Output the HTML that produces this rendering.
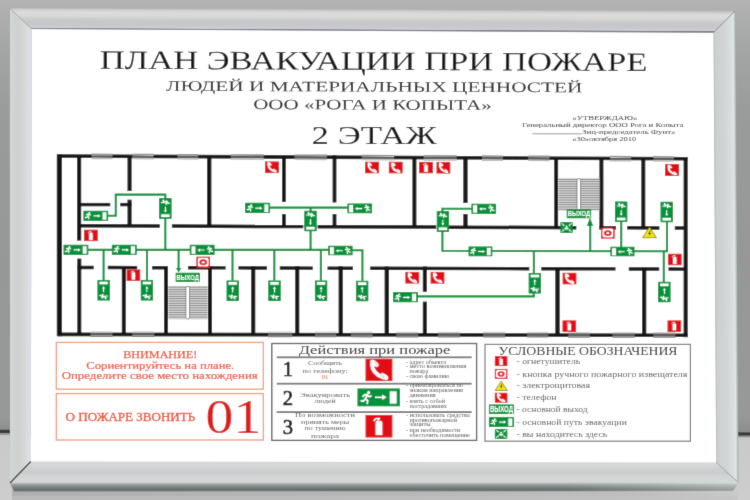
<!DOCTYPE html>
<html><head><meta charset="utf-8"><style>
html,body{margin:0;padding:0;width:750px;height:500px;overflow:hidden;background:#aaa;}
body>svg{display:block;will-change:transform;}
</style></head><body>
<svg width="750" height="500" viewBox="0 0 750 500">
<defs><filter id="soft" x="0" y="0" width="750" height="500" filterUnits="userSpaceOnUse"><feConvolveMatrix order="3" kernelMatrix="0.0113 0.0838 0.0113 0.0838 0.6193 0.0838 0.0113 0.0838 0.0113" edgeMode="duplicate" preserveAlpha="true"/></filter></defs>
<g filter="url(#soft)">
<defs>
<linearGradient id="bgTop" x1="0" y1="0" x2="0" y2="434" gradientUnits="userSpaceOnUse">
 <stop offset="0" stop-color="#b3b3b3"/><stop offset="0.1" stop-color="#a5a6a6"/><stop offset="0.25" stop-color="#9a9b9b"/>
 <stop offset="0.6" stop-color="#969797"/><stop offset="0.96" stop-color="#979898"/><stop offset="1" stop-color="#8a8b8b"/>
</linearGradient>
<linearGradient id="bgBot" x1="0" y1="431" x2="0" y2="500" gradientUnits="userSpaceOnUse">
 <stop offset="0" stop-color="#c0c0c0"/><stop offset="0.15" stop-color="#cacaca"/><stop offset="1" stop-color="#cdcdcd"/>
</linearGradient>
<linearGradient id="bgShadow" x1="12" y1="0" x2="736" y2="0" gradientUnits="userSpaceOnUse">
 <stop offset="0" stop-color="#b0b0b0"/><stop offset="0.5" stop-color="#b6b6b6"/><stop offset="0.85" stop-color="#bebebe"/><stop offset="1" stop-color="#c8c8c8"/>
</linearGradient>
<linearGradient id="frTop" x1="0" y1="8" x2="0" y2="29" gradientUnits="userSpaceOnUse" gradientTransform="matrix(1 0.0045 0 1 0 -0.143)">
 <stop offset="0" stop-color="#b8b8b8"/><stop offset="0.08" stop-color="#d0d0d0"/>
 <stop offset="0.2" stop-color="#dbdbdb"/><stop offset="0.38" stop-color="#d8d8d8"/>
 <stop offset="0.5" stop-color="#cdcdcd"/><stop offset="0.62" stop-color="#c5c7c9"/><stop offset="0.85" stop-color="#c7c9cb"/>
 <stop offset="0.9" stop-color="#d0d0da"/><stop offset="0.94" stop-color="#c8c8d4"/>
 <stop offset="0.97" stop-color="#80808e"/><stop offset="1" stop-color="#80808e"/>
</linearGradient>
<linearGradient id="frLeft" x1="9.6" y1="0" x2="31" y2="0" gradientUnits="userSpaceOnUse">
 <stop offset="0" stop-color="#a8b0b0"/><stop offset="0.05" stop-color="#d4dada"/><stop offset="0.15" stop-color="#d2d4d4"/>
 <stop offset="0.4" stop-color="#cfd0d0"/><stop offset="0.6" stop-color="#d3d4d4"/><stop offset="0.8" stop-color="#dadcdc"/>
 <stop offset="0.95" stop-color="#e0dee6"/><stop offset="1" stop-color="#d8d8e0"/>
</linearGradient>
<linearGradient id="frRight" x1="713.5" y1="0" x2="736" y2="0" gradientUnits="userSpaceOnUse" gradientTransform="matrix(1 0 0.0063 1 -0.205 0)">
 <stop offset="0" stop-color="#b8b8b8"/><stop offset="0.08" stop-color="#cdd0d0"/>
 <stop offset="0.45" stop-color="#d1d4d4"/><stop offset="0.75" stop-color="#d9dddd"/><stop offset="0.88" stop-color="#e1e5e5"/>
 <stop offset="0.95" stop-color="#b4bebe"/><stop offset="1" stop-color="#9aa4a4"/>
</linearGradient>
<linearGradient id="frBot" x1="0" y1="462" x2="0" y2="491" gradientUnits="userSpaceOnUse">
 <stop offset="0" stop-color="#d6d6d6"/><stop offset="0.1" stop-color="#d6d8d8"/>
 <stop offset="0.35" stop-color="#c9cccd"/><stop offset="0.58" stop-color="#d4d8d8"/><stop offset="0.7" stop-color="#d2d6d6"/>
 <stop offset="0.76" stop-color="#9ea6a6"/><stop offset="0.87" stop-color="#7a8282"/><stop offset="0.95" stop-color="#666e6e"/><stop offset="1" stop-color="#6e7676"/>
</linearGradient>
<linearGradient id="rimFade" x1="560" y1="0" x2="738" y2="0" gradientUnits="userSpaceOnUse">
 <stop offset="0" stop-color="#ffffff" stop-opacity="0"/><stop offset="1" stop-color="#ffffff" stop-opacity="0.35"/>
</linearGradient>
</defs>
<rect x="0" y="0" width="750" height="434" fill="url(#bgTop)"/>
<rect x="0" y="432" width="750" height="68" fill="url(#bgBot)"/>
<polygon points="0,429.8 750,432.2 750,435.8 0,433.2" fill="#363838"/>
<polygon points="0,433.2 750,435.8 750,437.2 0,434.8" fill="#8c8e8e"/>
<rect x="12" y="490" width="726" height="10" fill="url(#bgShadow)"/>
<rect x="12" y="496" width="726" height="4" fill="#c4c4c4" opacity="0.5"/>
<polygon points="9.6,8 735.5,10.5 713.5,32.6 31.7,28.8" fill="url(#frTop)"/>
<polygon points="9.6,8 31.7,28.8 30.8,461.5 10,483" fill="url(#frLeft)"/>
<polygon points="735.5,10.5 738.5,482.5 716.2,462.4 713.5,32.6" fill="url(#frRight)"/>
<polygon points="30.8,461.5 716.2,462.4 738.5,482.5 733,491 14,491.5 10,483" fill="url(#frBot)"/>
<polygon points="560,483 738.5,482.5 733,491 560,491.3" fill="url(#rimFade)"/>
<g stroke="#6a6e6e" stroke-width="1" fill="none">
<line x1="10" y1="8.5" x2="31.5" y2="28.8" stroke="#a8a8a8"/>
<line x1="735" y1="11" x2="713.5" y2="32.6" stroke="#8a9090"/>
<line x1="30.8" y1="461.5" x2="10" y2="483" stroke="#3c4040" stroke-width="1.3"/>
<line x1="716.2" y1="462.4" x2="738.3" y2="482.5" stroke="#a0a4a4"/>
</g>
<polygon points="31.7,28.8 713.5,32.6 716.2,462.4 30.8,461.5" fill="#ffffff"/>
<line x1="31.7" y1="28.6" x2="713.5" y2="32.4" stroke="#7a7a88" stroke-width="0.8"/>
<polygon points="57.5,154.2 687.5,157.0022239872915 687.5,160.6022239872915 57.5,157.79999999999998" fill="#141414"/>
<polygon points="57.5,332.6 688,333.40127084988086 688,337.0012708498809 57.5,336.20000000000005" fill="#141414"/>
<rect x="56.8" y="154.2" width="5.2" height="182.0" fill="#141414"/>
<rect x="683.6" y="157.0" width="4.1" height="180.2" fill="#141414"/>
<polygon points="91.6,153.55 112.5,153.64 112.5,154.84 91.6,154.75" fill="#909090"/>
<polygon points="91.6,154.75 112.5,154.84 112.5,155.74 91.6,155.65" fill="#cacaca"/>
<polygon points="91.6,155.65 112.5,155.74 112.5,157.44 91.6,157.35" fill="#5a5a5a"/>
<polygon points="91.6,157.35 112.5,157.44 112.5,159.24 91.6,159.15" fill="#bcbcbc"/>
<polygon points="132.3,153.73 153.6,153.83 153.6,155.03 132.3,154.93" fill="#909090"/>
<polygon points="132.3,154.93 153.6,155.03 153.6,155.93 132.3,155.83" fill="#cacaca"/>
<polygon points="132.3,155.83 153.6,155.93 153.6,157.63 132.3,157.53" fill="#5a5a5a"/>
<polygon points="132.3,157.53 153.6,157.63 153.6,159.43 132.3,159.33" fill="#bcbcbc"/>
<polygon points="177.4,153.93 198.3,154.03 198.3,155.23 177.4,155.13" fill="#909090"/>
<polygon points="177.4,155.13 198.3,155.23 198.3,156.13 177.4,156.03" fill="#cacaca"/>
<polygon points="177.4,156.03 198.3,156.13 198.3,157.83 177.4,157.73" fill="#5a5a5a"/>
<polygon points="177.4,157.73 198.3,157.83 198.3,159.63 177.4,159.53" fill="#bcbcbc"/>
<polygon points="230.7,154.17 263.7,154.32 263.7,155.52 230.7,155.37" fill="#909090"/>
<polygon points="230.7,155.37 263.7,155.52 263.7,156.42 230.7,156.27" fill="#cacaca"/>
<polygon points="230.7,156.27 263.7,156.42 263.7,158.12 230.7,157.97" fill="#5a5a5a"/>
<polygon points="230.7,157.97 263.7,158.12 263.7,159.92 230.7,159.77" fill="#bcbcbc"/>
<polygon points="294.5,154.45 326.8,154.60 326.8,155.80 294.5,155.65" fill="#909090"/>
<polygon points="294.5,155.65 326.8,155.80 326.8,156.70 294.5,156.55" fill="#cacaca"/>
<polygon points="294.5,156.55 326.8,156.70 326.8,158.40 294.5,158.25" fill="#5a5a5a"/>
<polygon points="294.5,158.25 326.8,158.40 326.8,160.20 294.5,160.05" fill="#bcbcbc"/>
<polygon points="361.6,154.75 394,154.90 394,156.10 361.6,155.95" fill="#909090"/>
<polygon points="361.6,155.95 394,156.10 394,157.00 361.6,156.85" fill="#cacaca"/>
<polygon points="361.6,156.85 394,157.00 394,158.70 361.6,158.55" fill="#5a5a5a"/>
<polygon points="361.6,158.55 394,158.70 394,160.50 361.6,160.35" fill="#bcbcbc"/>
<polygon points="423.7,155.03 456.7,155.18 456.7,156.38 423.7,156.23" fill="#909090"/>
<polygon points="423.7,156.23 456.7,156.38 456.7,157.28 423.7,157.13" fill="#cacaca"/>
<polygon points="423.7,157.13 456.7,157.28 456.7,158.98 423.7,158.83" fill="#5a5a5a"/>
<polygon points="423.7,158.83 456.7,158.98 456.7,160.78 423.7,160.63" fill="#bcbcbc"/>
<polygon points="482,155.29 502.9,155.38 502.9,156.58 482,156.49" fill="#909090"/>
<polygon points="482,156.49 502.9,156.58 502.9,157.48 482,157.39" fill="#cacaca"/>
<polygon points="482,157.39 502.9,157.48 502.9,159.18 482,159.09" fill="#5a5a5a"/>
<polygon points="482,159.09 502.9,159.18 502.9,160.98 482,160.89" fill="#bcbcbc"/>
<polygon points="528.2,155.49 549.5,155.59 549.5,156.79 528.2,156.69" fill="#909090"/>
<polygon points="528.2,156.69 549.5,156.79 549.5,157.69 528.2,157.59" fill="#cacaca"/>
<polygon points="528.2,157.59 549.5,157.69 549.5,159.39 528.2,159.29" fill="#5a5a5a"/>
<polygon points="528.2,159.29 549.5,159.39 549.5,161.19 528.2,161.09" fill="#bcbcbc"/>
<polygon points="610.2,155.86 631.2,155.95 631.2,157.15 610.2,157.06" fill="#909090"/>
<polygon points="610.2,157.06 631.2,157.15 631.2,158.05 610.2,157.96" fill="#cacaca"/>
<polygon points="610.2,157.96 631.2,158.05 631.2,159.75 610.2,159.66" fill="#5a5a5a"/>
<polygon points="610.2,159.66 631.2,159.75 631.2,161.55 610.2,161.46" fill="#bcbcbc"/>
<polygon points="653.3,156.05 673.9,156.14 673.9,157.34 653.3,157.25" fill="#909090"/>
<polygon points="653.3,157.25 673.9,157.34 673.9,158.24 653.3,158.15" fill="#cacaca"/>
<polygon points="653.3,158.15 673.9,158.24 673.9,159.94 653.3,159.85" fill="#5a5a5a"/>
<polygon points="653.3,159.85 673.9,159.94 673.9,161.74 653.3,161.65" fill="#bcbcbc"/>
<polygon points="90.5,331.24 112.5,331.27 112.5,332.67 90.5,332.64" fill="#d2d2d2"/>
<polygon points="90.5,332.64 112.5,332.67 112.5,333.27 90.5,333.24" fill="#959595"/>
<polygon points="90.5,333.24 112.5,333.27 112.5,335.27 90.5,335.24" fill="#5c5c5c"/>
<polygon points="90.5,335.24 112.5,335.27 112.5,336.07 90.5,336.04" fill="#bcbcbc"/>
<polygon points="90.5,336.04 112.5,336.07 112.5,337.07 90.5,337.04" fill="#7c7c7c"/>
<polygon points="132.3,331.30 154.3,331.32 154.3,332.72 132.3,332.70" fill="#d2d2d2"/>
<polygon points="132.3,332.70 154.3,332.72 154.3,333.32 132.3,333.30" fill="#959595"/>
<polygon points="132.3,333.30 154.3,333.32 154.3,335.32 132.3,335.30" fill="#5c5c5c"/>
<polygon points="132.3,335.30 154.3,335.32 154.3,336.12 132.3,336.10" fill="#bcbcbc"/>
<polygon points="132.3,336.10 154.3,336.12 154.3,337.12 132.3,337.10" fill="#7c7c7c"/>
<polygon points="268.1,331.47 292.3,331.50 292.3,332.90 268.1,332.87" fill="#d2d2d2"/>
<polygon points="268.1,332.87 292.3,332.90 292.3,333.50 268.1,333.47" fill="#959595"/>
<polygon points="268.1,333.47 292.3,333.50 292.3,335.50 268.1,335.47" fill="#5c5c5c"/>
<polygon points="268.1,335.47 292.3,335.50 292.3,336.30 268.1,336.27" fill="#bcbcbc"/>
<polygon points="268.1,336.27 292.3,336.30 292.3,337.30 268.1,337.27" fill="#7c7c7c"/>
<polygon points="315,331.53 336.3,331.55 336.3,332.95 315,332.93" fill="#d2d2d2"/>
<polygon points="315,332.93 336.3,332.95 336.3,333.55 315,333.53" fill="#959595"/>
<polygon points="315,333.53 336.3,333.55 336.3,335.55 315,335.53" fill="#5c5c5c"/>
<polygon points="315,335.53 336.3,335.55 336.3,336.35 315,336.33" fill="#bcbcbc"/>
<polygon points="315,336.33 336.3,336.35 336.3,337.35 315,337.33" fill="#7c7c7c"/>
<polygon points="351,331.57 372.6,331.60 372.6,333.00 351,332.97" fill="#d2d2d2"/>
<polygon points="351,332.97 372.6,333.00 372.6,333.60 351,333.57" fill="#959595"/>
<polygon points="351,333.57 372.6,333.60 372.6,335.60 351,335.57" fill="#5c5c5c"/>
<polygon points="351,335.57 372.6,335.60 372.6,336.40 351,336.37" fill="#bcbcbc"/>
<polygon points="351,336.37 372.6,336.40 372.6,337.40 351,337.37" fill="#7c7c7c"/>
<polygon points="396.2,331.63 418.2,331.66 418.2,333.06 396.2,333.03" fill="#d2d2d2"/>
<polygon points="396.2,333.03 418.2,333.06 418.2,333.66 396.2,333.63" fill="#959595"/>
<polygon points="396.2,333.63 418.2,333.66 418.2,335.66 396.2,335.63" fill="#5c5c5c"/>
<polygon points="396.2,335.63 418.2,335.66 418.2,336.46 396.2,336.43" fill="#bcbcbc"/>
<polygon points="396.2,336.43 418.2,336.46 418.2,337.46 396.2,337.43" fill="#7c7c7c"/>
<polygon points="438,331.68 460,331.71 460,333.11 438,333.08" fill="#d2d2d2"/>
<polygon points="438,333.08 460,333.11 460,333.71 438,333.68" fill="#959595"/>
<polygon points="438,333.68 460,333.71 460,335.71 438,335.68" fill="#5c5c5c"/>
<polygon points="438,335.68 460,335.71 460,336.51 438,336.48" fill="#bcbcbc"/>
<polygon points="438,336.48 460,336.51 460,337.51 438,337.48" fill="#7c7c7c"/>
<polygon points="483.1,331.74 505.1,331.77 505.1,333.17 483.1,333.14" fill="#d2d2d2"/>
<polygon points="483.1,333.14 505.1,333.17 505.1,333.77 483.1,333.74" fill="#959595"/>
<polygon points="483.1,333.74 505.1,333.77 505.1,335.77 483.1,335.74" fill="#5c5c5c"/>
<polygon points="483.1,335.74 505.1,335.77 505.1,336.57 483.1,336.54" fill="#bcbcbc"/>
<polygon points="483.1,336.54 505.1,336.57 505.1,337.57 483.1,337.54" fill="#7c7c7c"/>
<polygon points="527.1,331.80 548.3,331.82 548.3,333.22 527.1,333.20" fill="#d2d2d2"/>
<polygon points="527.1,333.20 548.3,333.22 548.3,333.82 527.1,333.80" fill="#959595"/>
<polygon points="527.1,333.80 548.3,333.82 548.3,335.82 527.1,335.80" fill="#5c5c5c"/>
<polygon points="527.1,335.80 548.3,335.82 548.3,336.62 527.1,336.60" fill="#bcbcbc"/>
<polygon points="527.1,336.60 548.3,336.62 548.3,337.62 527.1,337.60" fill="#7c7c7c"/>
<polygon points="568.2,331.85 589.9,331.88 589.9,333.28 568.2,333.25" fill="#d2d2d2"/>
<polygon points="568.2,333.25 589.9,333.28 589.9,333.88 568.2,333.85" fill="#959595"/>
<polygon points="568.2,333.85 589.9,333.88 589.9,335.88 568.2,335.85" fill="#5c5c5c"/>
<polygon points="568.2,335.85 589.9,335.88 589.9,336.68 568.2,336.65" fill="#bcbcbc"/>
<polygon points="568.2,336.65 589.9,336.68 589.9,337.68 568.2,337.65" fill="#7c7c7c"/>
<polygon points="612.5,331.91 634.7,331.93 634.7,333.33 612.5,333.31" fill="#d2d2d2"/>
<polygon points="612.5,333.31 634.7,333.33 634.7,333.93 612.5,333.91" fill="#959595"/>
<polygon points="612.5,333.91 634.7,333.93 634.7,335.93 612.5,335.91" fill="#5c5c5c"/>
<polygon points="612.5,335.91 634.7,335.93 634.7,336.73 612.5,336.71" fill="#bcbcbc"/>
<polygon points="612.5,336.71 634.7,336.73 634.7,337.73 612.5,337.71" fill="#7c7c7c"/>
<polygon points="653.3,331.96 675.5,331.99 675.5,333.39 653.3,333.36" fill="#d2d2d2"/>
<polygon points="653.3,333.36 675.5,333.39 675.5,333.99 653.3,333.96" fill="#959595"/>
<polygon points="653.3,333.96 675.5,333.99 675.5,335.99 653.3,335.96" fill="#5c5c5c"/>
<polygon points="653.3,335.96 675.5,335.99 675.5,336.79 653.3,336.76" fill="#bcbcbc"/>
<polygon points="653.3,336.76 675.5,336.79 675.5,337.79 653.3,337.76" fill="#7c7c7c"/>
<polygon points="79,223.9924092409241 159.8,224.29907590759075 159.8,227.79907590759075 79,227.4924092409241" fill="#141414"/>
<polygon points="171.9,224.345 303.3,224.84371287128712 303.3,228.34371287128712 171.9,227.845" fill="#141414"/>
<polygon points="317.6,224.89798679867988 436.2,225.3481188118812 436.2,228.8481188118812 317.6,228.39798679867988" fill="#141414"/>
<polygon points="449,225.396699669967 576.3,225.87985148514852 576.3,229.37985148514852 449,228.896699669967" fill="#141414"/>
<polygon points="599.2,225.96676567656766 616,226.0305280528053 616,229.5305280528053 599.2,229.46676567656766" fill="#141414"/>
<polygon points="627.2,226.07303630363037 659.4,226.1952475247525 659.4,229.6952475247525 627.2,229.57303630363037" fill="#141414"/>
<polygon points="674.8,226.25369636963697 687,226.3 687,229.8 674.8,229.75369636963697" fill="#141414"/>
<polygon points="77.3,265.7901661129568 93.7,265.83375415282393 93.7,269.2337541528239 77.3,269.1901661129568" fill="#141414"/>
<polygon points="107.8,265.87122923588043 137.2,265.9493687707641 137.2,269.3493687707641 107.8,269.2712292358804" fill="#141414"/>
<polygon points="152.1,265.98897009966777 167.8,266.0306976744186 167.8,269.4306976744186 152.1,269.38897009966774" fill="#141414"/>
<polygon points="188,266.0843853820598 225.6,266.1843189368771 225.6,269.5843189368771 188,269.48438538205977" fill="#141414"/>
<polygon points="238.4,266.2183388704319 267,266.2943521594684 267,269.6943521594684 238.4,269.6183388704319" fill="#141414"/>
<polygon points="279.8,266.32837209302323 312.8,266.4160797342193 312.8,269.8160797342193 279.8,269.7283720930232" fill="#141414"/>
<polygon points="327.5,266.45514950166114 353,266.5229235880399 353,269.92292358803985 327.5,269.8551495016611" fill="#141414"/>
<polygon points="370.2,266.56863787375414 529.3,266.9914950166113 529.3,270.39149501661126 370.2,269.9686378737541" fill="#141414"/>
<polygon points="541.3,267.0233887043189 615.5,267.2205980066445 615.5,270.62059800664446 541.3,270.4233887043189" fill="#141414"/>
<polygon points="628.8,267.2559468438538 659.2,267.3367441860465 659.2,270.73674418604645 628.8,270.65594684385377" fill="#141414"/>
<polygon points="668.5,267.36146179401993 684,267.40265780730897 684,270.80265780730895 668.5,270.7614617940199" fill="#141414"/>
<rect x="77.0" y="155" width="4.2" height="85.6" fill="#141414"/>
<rect x="127.5" y="155" width="4.1" height="36.0" fill="#141414"/>
<rect x="127.5" y="199.7" width="4.1" height="26.3" fill="#141414"/>
<polygon points="79,202.9 110.3,202.9 110.3,206.3 79,206.3" fill="#141414"/>
<polygon points="120.2,202.9 131.6,202.9 131.6,206.3 120.2,206.3" fill="#141414"/>
<rect x="207.1" y="155" width="4.3" height="70.0" fill="#141414"/>
<rect x="282.0" y="155" width="3.8" height="47.0" fill="#141414"/>
<rect x="282.0" y="214" width="3.8" height="12.0" fill="#141414"/>
<rect x="332.6" y="155" width="3.8" height="47.5" fill="#141414"/>
<rect x="332.6" y="214" width="3.8" height="12.0" fill="#141414"/>
<rect x="412.4" y="156" width="4.0" height="70.5" fill="#141414"/>
<rect x="463.3" y="156" width="4.3" height="47.0" fill="#141414"/>
<rect x="463.3" y="214" width="4.3" height="13.0" fill="#141414"/>
<rect x="554.2" y="157" width="3.9" height="71.0" fill="#141414"/>
<rect x="599.4" y="157" width="4.0" height="72.0" fill="#141414"/>
<rect x="641.3" y="157" width="4.0" height="72.0" fill="#141414"/>
<rect x="77.3" y="258.6" width="4.0" height="76.4" fill="#141414"/>
<rect x="121.8" y="266" width="4.0" height="69.0" fill="#141414"/>
<rect x="164.0" y="266" width="4.0" height="69.0" fill="#141414"/>
<rect x="208.0" y="266" width="4.0" height="69.0" fill="#141414"/>
<rect x="251.2" y="266" width="4.1" height="69.0" fill="#141414"/>
<rect x="295.2" y="266" width="4.1" height="69.0" fill="#141414"/>
<rect x="338.6" y="266" width="4.2" height="69.0" fill="#141414"/>
<rect x="384.6" y="266.5" width="4.3" height="69.5" fill="#141414"/>
<rect x="422.8" y="266.5" width="4.0" height="25.3" fill="#141414"/>
<rect x="422.8" y="301.6" width="4.0" height="34.4" fill="#141414"/>
<rect x="555.3" y="267.5" width="4.4" height="68.5" fill="#141414"/>
<rect x="642.1" y="267.5" width="4.2" height="68.5" fill="#141414"/>
<rect x="168.4" y="286.0" width="39.2" height="33.4" fill="#d2d2d2"/>
<rect x="168.4" y="286.80" width="39.2" height="0.7" fill="#777"/>
<rect x="168.4" y="289.10" width="39.2" height="0.7" fill="#777"/>
<rect x="168.4" y="291.40" width="39.2" height="0.7" fill="#777"/>
<rect x="168.4" y="293.70" width="39.2" height="0.7" fill="#777"/>
<rect x="168.4" y="296.00" width="39.2" height="0.7" fill="#777"/>
<rect x="168.4" y="298.30" width="39.2" height="0.7" fill="#777"/>
<rect x="168.4" y="300.60" width="39.2" height="0.7" fill="#777"/>
<rect x="168.4" y="302.90" width="39.2" height="0.7" fill="#777"/>
<rect x="168.4" y="305.20" width="39.2" height="0.7" fill="#777"/>
<rect x="168.4" y="307.50" width="39.2" height="0.7" fill="#777"/>
<rect x="168.4" y="309.80" width="39.2" height="0.7" fill="#777"/>
<rect x="168.4" y="312.10" width="39.2" height="0.7" fill="#777"/>
<rect x="168.4" y="314.40" width="39.2" height="0.7" fill="#777"/>
<rect x="168.4" y="316.70" width="39.2" height="0.7" fill="#777"/>
<rect x="185.9" y="286.5" width="3.6" height="32.4" rx="1.5" fill="#fff" stroke="#555" stroke-width="0.6"/>
<rect x="558.4" y="178.2" width="41.0" height="32.4" fill="#d2d2d2"/>
<rect x="558.4" y="179.00" width="41.0" height="0.7" fill="#777"/>
<rect x="558.4" y="181.30" width="41.0" height="0.7" fill="#777"/>
<rect x="558.4" y="183.60" width="41.0" height="0.7" fill="#777"/>
<rect x="558.4" y="185.90" width="41.0" height="0.7" fill="#777"/>
<rect x="558.4" y="188.20" width="41.0" height="0.7" fill="#777"/>
<rect x="558.4" y="190.50" width="41.0" height="0.7" fill="#777"/>
<rect x="558.4" y="192.80" width="41.0" height="0.7" fill="#777"/>
<rect x="558.4" y="195.10" width="41.0" height="0.7" fill="#777"/>
<rect x="558.4" y="197.40" width="41.0" height="0.7" fill="#777"/>
<rect x="558.4" y="199.70" width="41.0" height="0.7" fill="#777"/>
<rect x="558.4" y="202.00" width="41.0" height="0.7" fill="#777"/>
<rect x="558.4" y="204.30" width="41.0" height="0.7" fill="#777"/>
<rect x="558.4" y="206.60" width="41.0" height="0.7" fill="#777"/>
<rect x="558.4" y="208.90" width="41.0" height="0.7" fill="#777"/>
<rect x="577.0" y="178.7" width="3.6" height="31.4" rx="1.5" fill="#fff" stroke="#555" stroke-width="0.6"/>
<g fill="none" stroke="#03933b" stroke-width="2.1" stroke-linejoin="miter">
<polyline points="108,215.7 115.8,215.7 115.8,194.6 165.3,194.6 165.3,199"/>
<polyline points="165.3,218 165.3,250"/>
<polyline points="70,249.9 330,249.9"/>
<polyline points="103.6,250 103.6,280.5"/>
<polyline points="147.0,250 147.0,280.5"/>
<polyline points="178.6,250 178.6,269"/>
<polyline points="262,207.6 350,207.6"/>
<polyline points="310.6,207.6 310.6,211"/>
<polyline points="310.6,231 310.6,250"/>
<polyline points="232.5,250 232.5,280.5"/>
<polyline points="274.3,250 274.3,280.5"/>
<polyline points="320.9,250 320.9,280.5"/>
<polyline points="350,250.2 362.4,250.2 362.4,280.8"/>
<polyline points="475,208.8 442.4,208.8 442.4,212"/>
<polyline points="442.4,231 442.4,250.8 667,251.3 667,222"/>
<polyline points="533.9,251 533.9,273.5"/>
<polyline points="410,296.4 533.8,296.4 533.8,293"/>
<polyline points="590.2,251.2 590.2,223"/>
<polyline points="621.2,222 621.2,247"/>
<polyline points="663.8,251.3 663.8,282"/>
</g>
<svg x="83.2" y="210.5" width="25.2" height="10.5" viewBox="0 0 26 11" preserveAspectRatio="none" overflow="hidden"><rect x="0" y="0" width="26" height="11" rx="0.8" fill="#03933b"/>
 <g transform="translate(2.0,1.7) scale(0.600)"><circle cx="7.3" cy="1.5" r="1.6" fill="#fff"/><path d="M6.3,3.5 L4.2,7.4 M6.0,3.9 L7.9,5.3 L9.5,4.6 M5.7,3.6 L3.7,3.4 L2.2,4.9 M4.2,7.4 L6.5,8.7 L6.1,11.4 M4.2,7.4 L2.6,9.3 L0.5,9.1" fill="none" stroke="#fff" stroke-width="2.0" stroke-linecap="round" stroke-linejoin="round"/></g>
 <path d="M10.6,5.7 H16" stroke="#fff" stroke-width="1.2"/>
 <path d="M15.2,4.0 L17.8,5.7 L15.2,7.4 Z" fill="#fff"/>
 <rect x="19.9" y="1.8" width="4.1" height="7.9" fill="#fff"/></svg>
<svg x="63.3" y="244.5" width="25.3" height="10.5" viewBox="0 0 26 11" preserveAspectRatio="none" overflow="hidden"><rect x="0" y="0" width="26" height="11" rx="0.8" fill="#03933b"/>
 <g transform="translate(2.0,1.7) scale(0.600)"><circle cx="7.3" cy="1.5" r="1.6" fill="#fff"/><path d="M6.3,3.5 L4.2,7.4 M6.0,3.9 L7.9,5.3 L9.5,4.6 M5.7,3.6 L3.7,3.4 L2.2,4.9 M4.2,7.4 L6.5,8.7 L6.1,11.4 M4.2,7.4 L2.6,9.3 L0.5,9.1" fill="none" stroke="#fff" stroke-width="2.0" stroke-linecap="round" stroke-linejoin="round"/></g>
 <path d="M10.6,5.7 H16" stroke="#fff" stroke-width="1.2"/>
 <path d="M15.2,4.0 L17.8,5.7 L15.2,7.4 Z" fill="#fff"/>
 <rect x="19.9" y="1.8" width="4.1" height="7.9" fill="#fff"/></svg>
<svg x="111.6" y="244.5" width="25.3" height="10.5" viewBox="0 0 26 11" preserveAspectRatio="none" overflow="hidden"><rect x="0" y="0" width="26" height="11" rx="0.8" fill="#03933b"/>
 <g transform="translate(2.0,1.7) scale(0.600)"><circle cx="7.3" cy="1.5" r="1.6" fill="#fff"/><path d="M6.3,3.5 L4.2,7.4 M6.0,3.9 L7.9,5.3 L9.5,4.6 M5.7,3.6 L3.7,3.4 L2.2,4.9 M4.2,7.4 L6.5,8.7 L6.1,11.4 M4.2,7.4 L2.6,9.3 L0.5,9.1" fill="none" stroke="#fff" stroke-width="2.0" stroke-linecap="round" stroke-linejoin="round"/></g>
 <path d="M10.6,5.7 H16" stroke="#fff" stroke-width="1.2"/>
 <path d="M15.2,4.0 L17.8,5.7 L15.2,7.4 Z" fill="#fff"/>
 <rect x="19.9" y="1.8" width="4.1" height="7.9" fill="#fff"/></svg>
<svg x="189.5" y="244.6" width="25.3" height="10.5" viewBox="0 0 26 11" preserveAspectRatio="none" overflow="hidden"><rect x="0" y="0" width="26" height="11" rx="0.8" fill="#03933b"/>
 <g transform="translate(24.00,1.7) scale(-0.600,0.600)"><circle cx="7.3" cy="1.5" r="1.6" fill="#fff"/><path d="M6.3,3.5 L4.2,7.4 M6.0,3.9 L7.9,5.3 L9.5,4.6 M5.7,3.6 L3.7,3.4 L2.2,4.9 M4.2,7.4 L6.5,8.7 L6.1,11.4 M4.2,7.4 L2.6,9.3 L0.5,9.1" fill="none" stroke="#fff" stroke-width="2.0" stroke-linecap="round" stroke-linejoin="round"/></g>
 <path d="M10,5.7 H15.4" stroke="#fff" stroke-width="1.2"/>
 <path d="M10.8,4.0 L8.2,5.7 L10.8,7.4 Z" fill="#fff"/>
 <rect x="2.0" y="1.8" width="4.1" height="7.9" fill="#fff"/></svg>
<svg x="245.0" y="202.6" width="25.3" height="10.7" viewBox="0 0 26 11" preserveAspectRatio="none" overflow="hidden"><rect x="0" y="0" width="26" height="11" rx="0.8" fill="#03933b"/>
 <g transform="translate(2.0,1.7) scale(0.600)"><circle cx="7.3" cy="1.5" r="1.6" fill="#fff"/><path d="M6.3,3.5 L4.2,7.4 M6.0,3.9 L7.9,5.3 L9.5,4.6 M5.7,3.6 L3.7,3.4 L2.2,4.9 M4.2,7.4 L6.5,8.7 L6.1,11.4 M4.2,7.4 L2.6,9.3 L0.5,9.1" fill="none" stroke="#fff" stroke-width="2.0" stroke-linecap="round" stroke-linejoin="round"/></g>
 <path d="M10.6,5.7 H16" stroke="#fff" stroke-width="1.2"/>
 <path d="M15.2,4.0 L17.8,5.7 L15.2,7.4 Z" fill="#fff"/>
 <rect x="19.9" y="1.8" width="4.1" height="7.9" fill="#fff"/></svg>
<svg x="347.2" y="203.2" width="25.1" height="10.4" viewBox="0 0 26 11" preserveAspectRatio="none" overflow="hidden"><rect x="0" y="0" width="26" height="11" rx="0.8" fill="#03933b"/>
 <g transform="translate(24.00,1.7) scale(-0.600,0.600)"><circle cx="7.3" cy="1.5" r="1.6" fill="#fff"/><path d="M6.3,3.5 L4.2,7.4 M6.0,3.9 L7.9,5.3 L9.5,4.6 M5.7,3.6 L3.7,3.4 L2.2,4.9 M4.2,7.4 L6.5,8.7 L6.1,11.4 M4.2,7.4 L2.6,9.3 L0.5,9.1" fill="none" stroke="#fff" stroke-width="2.0" stroke-linecap="round" stroke-linejoin="round"/></g>
 <path d="M10,5.7 H15.4" stroke="#fff" stroke-width="1.2"/>
 <path d="M10.8,4.0 L8.2,5.7 L10.8,7.4 Z" fill="#fff"/>
 <rect x="2.0" y="1.8" width="4.1" height="7.9" fill="#fff"/></svg>
<svg x="328.0" y="245.5" width="24.8" height="10.1" viewBox="0 0 26 11" preserveAspectRatio="none" overflow="hidden"><rect x="0" y="0" width="26" height="11" rx="0.8" fill="#03933b"/>
 <g transform="translate(24.00,1.7) scale(-0.600,0.600)"><circle cx="7.3" cy="1.5" r="1.6" fill="#fff"/><path d="M6.3,3.5 L4.2,7.4 M6.0,3.9 L7.9,5.3 L9.5,4.6 M5.7,3.6 L3.7,3.4 L2.2,4.9 M4.2,7.4 L6.5,8.7 L6.1,11.4 M4.2,7.4 L2.6,9.3 L0.5,9.1" fill="none" stroke="#fff" stroke-width="2.0" stroke-linecap="round" stroke-linejoin="round"/></g>
 <path d="M10,5.7 H15.4" stroke="#fff" stroke-width="1.2"/>
 <path d="M10.8,4.0 L8.2,5.7 L10.8,7.4 Z" fill="#fff"/>
 <rect x="2.0" y="1.8" width="4.1" height="7.9" fill="#fff"/></svg>
<svg x="471.2" y="203.4" width="25.1" height="10.6" viewBox="0 0 26 11" preserveAspectRatio="none" overflow="hidden"><rect x="0" y="0" width="26" height="11" rx="0.8" fill="#03933b"/>
 <g transform="translate(24.00,1.7) scale(-0.600,0.600)"><circle cx="7.3" cy="1.5" r="1.6" fill="#fff"/><path d="M6.3,3.5 L4.2,7.4 M6.0,3.9 L7.9,5.3 L9.5,4.6 M5.7,3.6 L3.7,3.4 L2.2,4.9 M4.2,7.4 L6.5,8.7 L6.1,11.4 M4.2,7.4 L2.6,9.3 L0.5,9.1" fill="none" stroke="#fff" stroke-width="2.0" stroke-linecap="round" stroke-linejoin="round"/></g>
 <path d="M10,5.7 H15.4" stroke="#fff" stroke-width="1.2"/>
 <path d="M10.8,4.0 L8.2,5.7 L10.8,7.4 Z" fill="#fff"/>
 <rect x="2.0" y="1.8" width="4.1" height="7.9" fill="#fff"/></svg>
<svg x="468.3" y="246.2" width="24.3" height="10.2" viewBox="0 0 26 11" preserveAspectRatio="none" overflow="hidden"><rect x="0" y="0" width="26" height="11" rx="0.8" fill="#03933b"/>
 <g transform="translate(2.0,1.7) scale(0.600)"><circle cx="7.3" cy="1.5" r="1.6" fill="#fff"/><path d="M6.3,3.5 L4.2,7.4 M6.0,3.9 L7.9,5.3 L9.5,4.6 M5.7,3.6 L3.7,3.4 L2.2,4.9 M4.2,7.4 L6.5,8.7 L6.1,11.4 M4.2,7.4 L2.6,9.3 L0.5,9.1" fill="none" stroke="#fff" stroke-width="2.0" stroke-linecap="round" stroke-linejoin="round"/></g>
 <path d="M10.6,5.7 H16" stroke="#fff" stroke-width="1.2"/>
 <path d="M15.2,4.0 L17.8,5.7 L15.2,7.4 Z" fill="#fff"/>
 <rect x="19.9" y="1.8" width="4.1" height="7.9" fill="#fff"/></svg>
<svg x="392.9" y="291.9" width="25.1" height="10.6" viewBox="0 0 26 11" preserveAspectRatio="none" overflow="hidden"><rect x="0" y="0" width="26" height="11" rx="0.8" fill="#03933b"/>
 <g transform="translate(2.0,1.7) scale(0.600)"><circle cx="7.3" cy="1.5" r="1.6" fill="#fff"/><path d="M6.3,3.5 L4.2,7.4 M6.0,3.9 L7.9,5.3 L9.5,4.6 M5.7,3.6 L3.7,3.4 L2.2,4.9 M4.2,7.4 L6.5,8.7 L6.1,11.4 M4.2,7.4 L2.6,9.3 L0.5,9.1" fill="none" stroke="#fff" stroke-width="2.0" stroke-linecap="round" stroke-linejoin="round"/></g>
 <path d="M10.6,5.7 H16" stroke="#fff" stroke-width="1.2"/>
 <path d="M15.2,4.0 L17.8,5.7 L15.2,7.4 Z" fill="#fff"/>
 <rect x="19.9" y="1.8" width="4.1" height="7.9" fill="#fff"/></svg>
<svg x="610.2" y="246.5" width="24.5" height="10.1" viewBox="0 0 26 11" preserveAspectRatio="none" overflow="hidden"><rect x="0" y="0" width="26" height="11" rx="0.8" fill="#03933b"/>
 <g transform="translate(24.00,1.7) scale(-0.600,0.600)"><circle cx="7.3" cy="1.5" r="1.6" fill="#fff"/><path d="M6.3,3.5 L4.2,7.4 M6.0,3.9 L7.9,5.3 L9.5,4.6 M5.7,3.6 L3.7,3.4 L2.2,4.9 M4.2,7.4 L6.5,8.7 L6.1,11.4 M4.2,7.4 L2.6,9.3 L0.5,9.1" fill="none" stroke="#fff" stroke-width="2.0" stroke-linecap="round" stroke-linejoin="round"/></g>
 <path d="M10,5.7 H15.4" stroke="#fff" stroke-width="1.2"/>
 <path d="M10.8,4.0 L8.2,5.7 L10.8,7.4 Z" fill="#fff"/>
 <rect x="2.0" y="1.8" width="4.1" height="7.9" fill="#fff"/></svg>
<svg x="159.0" y="197.9" width="12.8" height="21.0" viewBox="0 0 13 21" preserveAspectRatio="none" overflow="hidden"><rect x="0" y="0" width="13" height="21" rx="0.8" fill="#03933b"/>
 <g transform="translate(6.5,4.2) scale(0.7,0.45) rotate(90) translate(-5,-6)"><circle cx="7.3" cy="1.5" r="1.8" fill="#fff"/><path d="M6.3,3.5 L4.2,7.4 M6.0,3.9 L7.9,5.3 L9.5,4.6 M5.7,3.6 L3.7,3.4 L2.2,4.9 M4.2,7.4 L6.5,8.7 L6.1,11.4 M4.2,7.4 L2.6,9.3 L0.5,9.1" fill="none" stroke="#fff" stroke-width="2.3" stroke-linecap="round" stroke-linejoin="round"/></g>
 <path d="M6.5,8.7 V13" stroke="#fff" stroke-width="1"/>
 <path d="M5,12.3 L6.5,14.6 L8,12.3 Z" fill="#fff"/>
 <rect x="2.2" y="16.4" width="8.6" height="2.8" fill="#fff"/></svg>
<svg x="304.1" y="210.4" width="12.8" height="21.0" viewBox="0 0 13 21" preserveAspectRatio="none" overflow="hidden"><rect x="0" y="0" width="13" height="21" rx="0.8" fill="#03933b"/>
 <g transform="translate(6.5,4.2) scale(0.7,0.45) rotate(90) translate(-5,-6)"><circle cx="7.3" cy="1.5" r="1.8" fill="#fff"/><path d="M6.3,3.5 L4.2,7.4 M6.0,3.9 L7.9,5.3 L9.5,4.6 M5.7,3.6 L3.7,3.4 L2.2,4.9 M4.2,7.4 L6.5,8.7 L6.1,11.4 M4.2,7.4 L2.6,9.3 L0.5,9.1" fill="none" stroke="#fff" stroke-width="2.3" stroke-linecap="round" stroke-linejoin="round"/></g>
 <path d="M6.5,8.7 V13" stroke="#fff" stroke-width="1"/>
 <path d="M5,12.3 L6.5,14.6 L8,12.3 Z" fill="#fff"/>
 <rect x="2.2" y="16.4" width="8.6" height="2.8" fill="#fff"/></svg>
<svg x="436.5" y="211.0" width="12.8" height="21.0" viewBox="0 0 13 21" preserveAspectRatio="none" overflow="hidden"><rect x="0" y="0" width="13" height="21" rx="0.8" fill="#03933b"/>
 <g transform="translate(6.5,4.2) scale(0.7,0.45) rotate(90) translate(-5,-6)"><circle cx="7.3" cy="1.5" r="1.8" fill="#fff"/><path d="M6.3,3.5 L4.2,7.4 M6.0,3.9 L7.9,5.3 L9.5,4.6 M5.7,3.6 L3.7,3.4 L2.2,4.9 M4.2,7.4 L6.5,8.7 L6.1,11.4 M4.2,7.4 L2.6,9.3 L0.5,9.1" fill="none" stroke="#fff" stroke-width="2.3" stroke-linecap="round" stroke-linejoin="round"/></g>
 <path d="M6.5,8.7 V13" stroke="#fff" stroke-width="1"/>
 <path d="M5,12.3 L6.5,14.6 L8,12.3 Z" fill="#fff"/>
 <rect x="2.2" y="16.4" width="8.6" height="2.8" fill="#fff"/></svg>
<svg x="614.8" y="201.2" width="12.8" height="21.0" viewBox="0 0 13 21" preserveAspectRatio="none" overflow="hidden"><rect x="0" y="0" width="13" height="21" rx="0.8" fill="#03933b"/>
 <g transform="translate(6.5,4.2) scale(0.7,0.45) rotate(90) translate(-5,-6)"><circle cx="7.3" cy="1.5" r="1.8" fill="#fff"/><path d="M6.3,3.5 L4.2,7.4 M6.0,3.9 L7.9,5.3 L9.5,4.6 M5.7,3.6 L3.7,3.4 L2.2,4.9 M4.2,7.4 L6.5,8.7 L6.1,11.4 M4.2,7.4 L2.6,9.3 L0.5,9.1" fill="none" stroke="#fff" stroke-width="2.3" stroke-linecap="round" stroke-linejoin="round"/></g>
 <path d="M6.5,8.7 V13" stroke="#fff" stroke-width="1"/>
 <path d="M5,12.3 L6.5,14.6 L8,12.3 Z" fill="#fff"/>
 <rect x="2.2" y="16.4" width="8.6" height="2.8" fill="#fff"/></svg>
<svg x="660.3" y="201.4" width="12.8" height="21.0" viewBox="0 0 13 21" preserveAspectRatio="none" overflow="hidden"><rect x="0" y="0" width="13" height="21" rx="0.8" fill="#03933b"/>
 <g transform="translate(6.5,4.2) scale(0.7,0.45) rotate(90) translate(-5,-6)"><circle cx="7.3" cy="1.5" r="1.8" fill="#fff"/><path d="M6.3,3.5 L4.2,7.4 M6.0,3.9 L7.9,5.3 L9.5,4.6 M5.7,3.6 L3.7,3.4 L2.2,4.9 M4.2,7.4 L6.5,8.7 L6.1,11.4 M4.2,7.4 L2.6,9.3 L0.5,9.1" fill="none" stroke="#fff" stroke-width="2.3" stroke-linecap="round" stroke-linejoin="round"/></g>
 <path d="M6.5,8.7 V13" stroke="#fff" stroke-width="1"/>
 <path d="M5,12.3 L6.5,14.6 L8,12.3 Z" fill="#fff"/>
 <rect x="2.2" y="16.4" width="8.6" height="2.8" fill="#fff"/></svg>
<svg x="97.2" y="279.8" width="12.8" height="21.0" viewBox="0 0 13 21" preserveAspectRatio="none" overflow="hidden"><rect x="0" y="0" width="13" height="21" rx="0.8" fill="#03933b"/>
 <rect x="2.2" y="1.8" width="8.6" height="2.8" fill="#fff"/>
 <path d="M6.5,8 V12.3" stroke="#fff" stroke-width="1"/>
 <path d="M5,8.7 L6.5,6.4 L8,8.7 Z" fill="#fff"/>
 <g transform="translate(6.5,16.8) scale(0.7,0.45) rotate(-90) translate(-5,-6)"><circle cx="7.3" cy="1.5" r="1.8" fill="#fff"/><path d="M6.3,3.5 L4.2,7.4 M6.0,3.9 L7.9,5.3 L9.5,4.6 M5.7,3.6 L3.7,3.4 L2.2,4.9 M4.2,7.4 L6.5,8.7 L6.1,11.4 M4.2,7.4 L2.6,9.3 L0.5,9.1" fill="none" stroke="#fff" stroke-width="2.3" stroke-linecap="round" stroke-linejoin="round"/></g></svg>
<svg x="140.5" y="279.8" width="12.8" height="21.0" viewBox="0 0 13 21" preserveAspectRatio="none" overflow="hidden"><rect x="0" y="0" width="13" height="21" rx="0.8" fill="#03933b"/>
 <rect x="2.2" y="1.8" width="8.6" height="2.8" fill="#fff"/>
 <path d="M6.5,8 V12.3" stroke="#fff" stroke-width="1"/>
 <path d="M5,8.7 L6.5,6.4 L8,8.7 Z" fill="#fff"/>
 <g transform="translate(6.5,16.8) scale(0.7,0.45) rotate(-90) translate(-5,-6)"><circle cx="7.3" cy="1.5" r="1.8" fill="#fff"/><path d="M6.3,3.5 L4.2,7.4 M6.0,3.9 L7.9,5.3 L9.5,4.6 M5.7,3.6 L3.7,3.4 L2.2,4.9 M4.2,7.4 L6.5,8.7 L6.1,11.4 M4.2,7.4 L2.6,9.3 L0.5,9.1" fill="none" stroke="#fff" stroke-width="2.3" stroke-linecap="round" stroke-linejoin="round"/></g></svg>
<svg x="226.3" y="280.2" width="12.8" height="21.0" viewBox="0 0 13 21" preserveAspectRatio="none" overflow="hidden"><rect x="0" y="0" width="13" height="21" rx="0.8" fill="#03933b"/>
 <rect x="2.2" y="1.8" width="8.6" height="2.8" fill="#fff"/>
 <path d="M6.5,8 V12.3" stroke="#fff" stroke-width="1"/>
 <path d="M5,8.7 L6.5,6.4 L8,8.7 Z" fill="#fff"/>
 <g transform="translate(6.5,16.8) scale(0.7,0.45) rotate(-90) translate(-5,-6)"><circle cx="7.3" cy="1.5" r="1.8" fill="#fff"/><path d="M6.3,3.5 L4.2,7.4 M6.0,3.9 L7.9,5.3 L9.5,4.6 M5.7,3.6 L3.7,3.4 L2.2,4.9 M4.2,7.4 L6.5,8.7 L6.1,11.4 M4.2,7.4 L2.6,9.3 L0.5,9.1" fill="none" stroke="#fff" stroke-width="2.3" stroke-linecap="round" stroke-linejoin="round"/></g></svg>
<svg x="268.1" y="280.2" width="12.8" height="21.0" viewBox="0 0 13 21" preserveAspectRatio="none" overflow="hidden"><rect x="0" y="0" width="13" height="21" rx="0.8" fill="#03933b"/>
 <rect x="2.2" y="1.8" width="8.6" height="2.8" fill="#fff"/>
 <path d="M6.5,8 V12.3" stroke="#fff" stroke-width="1"/>
 <path d="M5,8.7 L6.5,6.4 L8,8.7 Z" fill="#fff"/>
 <g transform="translate(6.5,16.8) scale(0.7,0.45) rotate(-90) translate(-5,-6)"><circle cx="7.3" cy="1.5" r="1.8" fill="#fff"/><path d="M6.3,3.5 L4.2,7.4 M6.0,3.9 L7.9,5.3 L9.5,4.6 M5.7,3.6 L3.7,3.4 L2.2,4.9 M4.2,7.4 L6.5,8.7 L6.1,11.4 M4.2,7.4 L2.6,9.3 L0.5,9.1" fill="none" stroke="#fff" stroke-width="2.3" stroke-linecap="round" stroke-linejoin="round"/></g></svg>
<svg x="314.7" y="280.2" width="12.8" height="21.0" viewBox="0 0 13 21" preserveAspectRatio="none" overflow="hidden"><rect x="0" y="0" width="13" height="21" rx="0.8" fill="#03933b"/>
 <rect x="2.2" y="1.8" width="8.6" height="2.8" fill="#fff"/>
 <path d="M6.5,8 V12.3" stroke="#fff" stroke-width="1"/>
 <path d="M5,8.7 L6.5,6.4 L8,8.7 Z" fill="#fff"/>
 <g transform="translate(6.5,16.8) scale(0.7,0.45) rotate(-90) translate(-5,-6)"><circle cx="7.3" cy="1.5" r="1.8" fill="#fff"/><path d="M6.3,3.5 L4.2,7.4 M6.0,3.9 L7.9,5.3 L9.5,4.6 M5.7,3.6 L3.7,3.4 L2.2,4.9 M4.2,7.4 L6.5,8.7 L6.1,11.4 M4.2,7.4 L2.6,9.3 L0.5,9.1" fill="none" stroke="#fff" stroke-width="2.3" stroke-linecap="round" stroke-linejoin="round"/></g></svg>
<svg x="355.8" y="280.4" width="12.8" height="21.0" viewBox="0 0 13 21" preserveAspectRatio="none" overflow="hidden"><rect x="0" y="0" width="13" height="21" rx="0.8" fill="#03933b"/>
 <rect x="2.2" y="1.8" width="8.6" height="2.8" fill="#fff"/>
 <path d="M6.5,8 V12.3" stroke="#fff" stroke-width="1"/>
 <path d="M5,8.7 L6.5,6.4 L8,8.7 Z" fill="#fff"/>
 <g transform="translate(6.5,16.8) scale(0.7,0.45) rotate(-90) translate(-5,-6)"><circle cx="7.3" cy="1.5" r="1.8" fill="#fff"/><path d="M6.3,3.5 L4.2,7.4 M6.0,3.9 L7.9,5.3 L9.5,4.6 M5.7,3.6 L3.7,3.4 L2.2,4.9 M4.2,7.4 L6.5,8.7 L6.1,11.4 M4.2,7.4 L2.6,9.3 L0.5,9.1" fill="none" stroke="#fff" stroke-width="2.3" stroke-linecap="round" stroke-linejoin="round"/></g></svg>
<svg x="528.4" y="272.8" width="12.8" height="21.0" viewBox="0 0 13 21" preserveAspectRatio="none" overflow="hidden"><rect x="0" y="0" width="13" height="21" rx="0.8" fill="#03933b"/>
 <rect x="2.2" y="1.8" width="8.6" height="2.8" fill="#fff"/>
 <path d="M6.5,8 V12.3" stroke="#fff" stroke-width="1"/>
 <path d="M5,8.7 L6.5,6.4 L8,8.7 Z" fill="#fff"/>
 <g transform="translate(6.5,16.8) scale(0.7,0.45) rotate(-90) translate(-5,-6)"><circle cx="7.3" cy="1.5" r="1.8" fill="#fff"/><path d="M6.3,3.5 L4.2,7.4 M6.0,3.9 L7.9,5.3 L9.5,4.6 M5.7,3.6 L3.7,3.4 L2.2,4.9 M4.2,7.4 L6.5,8.7 L6.1,11.4 M4.2,7.4 L2.6,9.3 L0.5,9.1" fill="none" stroke="#fff" stroke-width="2.3" stroke-linecap="round" stroke-linejoin="round"/></g></svg>
<svg x="658.0" y="281.6" width="12.8" height="21.0" viewBox="0 0 13 21" preserveAspectRatio="none" overflow="hidden"><rect x="0" y="0" width="13" height="21" rx="0.8" fill="#03933b"/>
 <rect x="2.2" y="1.8" width="8.6" height="2.8" fill="#fff"/>
 <path d="M6.5,8 V12.3" stroke="#fff" stroke-width="1"/>
 <path d="M5,8.7 L6.5,6.4 L8,8.7 Z" fill="#fff"/>
 <g transform="translate(6.5,16.8) scale(0.7,0.45) rotate(-90) translate(-5,-6)"><circle cx="7.3" cy="1.5" r="1.8" fill="#fff"/><path d="M6.3,3.5 L4.2,7.4 M6.0,3.9 L7.9,5.3 L9.5,4.6 M5.7,3.6 L3.7,3.4 L2.2,4.9 M4.2,7.4 L6.5,8.7 L6.1,11.4 M4.2,7.4 L2.6,9.3 L0.5,9.1" fill="none" stroke="#fff" stroke-width="2.3" stroke-linecap="round" stroke-linejoin="round"/></g></svg>
<svg x="175.4" y="272.4" width="24.7" height="9.5" viewBox="0 0 25 9.5" preserveAspectRatio="none" overflow="hidden"><rect x="0" y="0" width="25" height="9.5" rx="0.8" fill="#03933b"/>
 <text x="12.5" y="7.4" text-anchor="middle" font-family="Liberation Sans" font-weight="bold" font-size="7.8" fill="#fff" stroke="#fff" stroke-width="0.15" textLength="22.6" lengthAdjust="spacingAndGlyphs">ВЫХОД</text></svg>
<svg x="566.5" y="208.9" width="24.9" height="9.5" viewBox="0 0 25 9.5" preserveAspectRatio="none" overflow="hidden"><rect x="0" y="0" width="25" height="9.5" rx="0.8" fill="#03933b"/>
 <text x="12.5" y="7.4" text-anchor="middle" font-family="Liberation Sans" font-weight="bold" font-size="7.8" fill="#fff" stroke="#fff" stroke-width="0.15" textLength="22.6" lengthAdjust="spacingAndGlyphs">ВЫХОД</text></svg>
<path d="M175.9,268 L181.4,268 L178.6,272.6 Z" fill="#03933b"/>
<path d="M586.8,226 L593.2,226 L590.0,217.6 Z" fill="#03933b"/>
<svg x="264.8" y="161.3" width="14.2" height="12.0" viewBox="0 0 14 12" preserveAspectRatio="none" overflow="hidden"><rect x="0" y="0" width="14" height="12" fill="#e30d16"/>
 <ellipse cx="4.7" cy="2.5" rx="2.5" ry="1.35" transform="rotate(38 4.7 2.5)" fill="#fff"/>
 <ellipse cx="9.7" cy="9.5" rx="2.4" ry="1.35" transform="rotate(38 9.7 9.5)" fill="#fff"/>
 <path d="M3.4,3.0 Q3.6,8.0 9.2,10.0" stroke="#fff" stroke-width="2.0" fill="none" stroke-linecap="round"/>
 <path d="M5.0,1.6 L6.2,3.4 M8.2,8.4 L9.6,10.2" stroke="#e30d16" stroke-width="0.35" opacity="0.6"/></svg>
<svg x="365.0" y="161.5" width="14.2" height="12.0" viewBox="0 0 14 12" preserveAspectRatio="none" overflow="hidden"><rect x="0" y="0" width="14" height="12" fill="#e30d16"/>
 <ellipse cx="4.7" cy="2.5" rx="2.5" ry="1.35" transform="rotate(38 4.7 2.5)" fill="#fff"/>
 <ellipse cx="9.7" cy="9.5" rx="2.4" ry="1.35" transform="rotate(38 9.7 9.5)" fill="#fff"/>
 <path d="M3.4,3.0 Q3.6,8.0 9.2,10.0" stroke="#fff" stroke-width="2.0" fill="none" stroke-linecap="round"/>
 <path d="M5.0,1.6 L6.2,3.4 M8.2,8.4 L9.6,10.2" stroke="#e30d16" stroke-width="0.35" opacity="0.6"/></svg>
<svg x="388.6" y="161.6" width="14.2" height="12.0" viewBox="0 0 14 12" preserveAspectRatio="none" overflow="hidden"><rect x="0" y="0" width="14" height="12" fill="#e30d16"/>
 <ellipse cx="4.7" cy="2.5" rx="2.5" ry="1.35" transform="rotate(38 4.7 2.5)" fill="#fff"/>
 <ellipse cx="9.7" cy="9.5" rx="2.4" ry="1.35" transform="rotate(38 9.7 9.5)" fill="#fff"/>
 <path d="M3.4,3.0 Q3.6,8.0 9.2,10.0" stroke="#fff" stroke-width="2.0" fill="none" stroke-linecap="round"/>
 <path d="M5.0,1.6 L6.2,3.4 M8.2,8.4 L9.6,10.2" stroke="#e30d16" stroke-width="0.35" opacity="0.6"/></svg>
<svg x="436.3" y="161.7" width="14.2" height="12.0" viewBox="0 0 14 12" preserveAspectRatio="none" overflow="hidden"><rect x="0" y="0" width="14" height="12" fill="#e30d16"/>
 <ellipse cx="4.7" cy="2.5" rx="2.5" ry="1.35" transform="rotate(38 4.7 2.5)" fill="#fff"/>
 <ellipse cx="9.7" cy="9.5" rx="2.4" ry="1.35" transform="rotate(38 9.7 9.5)" fill="#fff"/>
 <path d="M3.4,3.0 Q3.6,8.0 9.2,10.0" stroke="#fff" stroke-width="2.0" fill="none" stroke-linecap="round"/>
 <path d="M5.0,1.6 L6.2,3.4 M8.2,8.4 L9.6,10.2" stroke="#e30d16" stroke-width="0.35" opacity="0.6"/></svg>
<svg x="665.0" y="164.0" width="14.2" height="12.0" viewBox="0 0 14 12" preserveAspectRatio="none" overflow="hidden"><rect x="0" y="0" width="14" height="12" fill="#e30d16"/>
 <ellipse cx="4.7" cy="2.5" rx="2.5" ry="1.35" transform="rotate(38 4.7 2.5)" fill="#fff"/>
 <ellipse cx="9.7" cy="9.5" rx="2.4" ry="1.35" transform="rotate(38 9.7 9.5)" fill="#fff"/>
 <path d="M3.4,3.0 Q3.6,8.0 9.2,10.0" stroke="#fff" stroke-width="2.0" fill="none" stroke-linecap="round"/>
 <path d="M5.0,1.6 L6.2,3.4 M8.2,8.4 L9.6,10.2" stroke="#e30d16" stroke-width="0.35" opacity="0.6"/></svg>
<svg x="405.2" y="271.7" width="14.2" height="12.0" viewBox="0 0 14 12" preserveAspectRatio="none" overflow="hidden"><rect x="0" y="0" width="14" height="12" fill="#e30d16"/>
 <ellipse cx="4.7" cy="2.5" rx="2.5" ry="1.35" transform="rotate(38 4.7 2.5)" fill="#fff"/>
 <ellipse cx="9.7" cy="9.5" rx="2.4" ry="1.35" transform="rotate(38 9.7 9.5)" fill="#fff"/>
 <path d="M3.4,3.0 Q3.6,8.0 9.2,10.0" stroke="#fff" stroke-width="2.0" fill="none" stroke-linecap="round"/>
 <path d="M5.0,1.6 L6.2,3.4 M8.2,8.4 L9.6,10.2" stroke="#e30d16" stroke-width="0.35" opacity="0.6"/></svg>
<svg x="430.4" y="271.8" width="14.2" height="12.0" viewBox="0 0 14 12" preserveAspectRatio="none" overflow="hidden"><rect x="0" y="0" width="14" height="12" fill="#e30d16"/>
 <ellipse cx="4.7" cy="2.5" rx="2.5" ry="1.35" transform="rotate(38 4.7 2.5)" fill="#fff"/>
 <ellipse cx="9.7" cy="9.5" rx="2.4" ry="1.35" transform="rotate(38 9.7 9.5)" fill="#fff"/>
 <path d="M3.4,3.0 Q3.6,8.0 9.2,10.0" stroke="#fff" stroke-width="2.0" fill="none" stroke-linecap="round"/>
 <path d="M5.0,1.6 L6.2,3.4 M8.2,8.4 L9.6,10.2" stroke="#e30d16" stroke-width="0.35" opacity="0.6"/></svg>
<svg x="562.4" y="272.6" width="14.2" height="12.0" viewBox="0 0 14 12" preserveAspectRatio="none" overflow="hidden"><rect x="0" y="0" width="14" height="12" fill="#e30d16"/>
 <ellipse cx="4.7" cy="2.5" rx="2.5" ry="1.35" transform="rotate(38 4.7 2.5)" fill="#fff"/>
 <ellipse cx="9.7" cy="9.5" rx="2.4" ry="1.35" transform="rotate(38 9.7 9.5)" fill="#fff"/>
 <path d="M3.4,3.0 Q3.6,8.0 9.2,10.0" stroke="#fff" stroke-width="2.0" fill="none" stroke-linecap="round"/>
 <path d="M5.0,1.6 L6.2,3.4 M8.2,8.4 L9.6,10.2" stroke="#e30d16" stroke-width="0.35" opacity="0.6"/></svg>
<svg x="83.9" y="229.5" width="14.0" height="11.8" viewBox="0 0 14 12" preserveAspectRatio="none" overflow="hidden"><rect x="0" y="0" width="14" height="12" fill="#e30d16"/>
 <path d="M5.2,4.2 Q5.2,3.1 6.5,3.1 L7.5,3.1 Q8.8,3.1 8.8,4.2 L8.8,10.6 L5.2,10.6 Z" fill="#fff"/>
 <path d="M6.6,3.1 L6.6,2 L7.6,2 M6.6,2 Q5,1.6 4.4,3.4" stroke="#fff" stroke-width="0.8" fill="none"/></svg>
<svg x="126.4" y="269.3" width="14.0" height="11.8" viewBox="0 0 14 12" preserveAspectRatio="none" overflow="hidden"><rect x="0" y="0" width="14" height="12" fill="#e30d16"/>
 <path d="M5.2,4.2 Q5.2,3.1 6.5,3.1 L7.5,3.1 Q8.8,3.1 8.8,4.2 L8.8,10.6 L5.2,10.6 Z" fill="#fff"/>
 <path d="M6.6,3.1 L6.6,2 L7.6,2 M6.6,2 Q5,1.6 4.4,3.4" stroke="#fff" stroke-width="0.8" fill="none"/></svg>
<svg x="419.0" y="161.7" width="14.0" height="11.8" viewBox="0 0 14 12" preserveAspectRatio="none" overflow="hidden"><rect x="0" y="0" width="14" height="12" fill="#e30d16"/>
 <path d="M5.2,4.2 Q5.2,3.1 6.5,3.1 L7.5,3.1 Q8.8,3.1 8.8,4.2 L8.8,10.6 L5.2,10.6 Z" fill="#fff"/>
 <path d="M6.6,3.1 L6.6,2 L7.6,2 M6.6,2 Q5,1.6 4.4,3.4" stroke="#fff" stroke-width="0.8" fill="none"/></svg>
<svg x="667.8" y="253.6" width="14.0" height="11.8" viewBox="0 0 14 12" preserveAspectRatio="none" overflow="hidden"><rect x="0" y="0" width="14" height="12" fill="#e30d16"/>
 <path d="M5.2,4.2 Q5.2,3.1 6.5,3.1 L7.5,3.1 Q8.8,3.1 8.8,4.2 L8.8,10.6 L5.2,10.6 Z" fill="#fff"/>
 <path d="M6.6,3.1 L6.6,2 L7.6,2 M6.6,2 Q5,1.6 4.4,3.4" stroke="#fff" stroke-width="0.8" fill="none"/></svg>
<svg x="562.3" y="320.2" width="14.0" height="11.8" viewBox="0 0 14 12" preserveAspectRatio="none" overflow="hidden"><rect x="0" y="0" width="14" height="12" fill="#e30d16"/>
 <path d="M5.2,4.2 Q5.2,3.1 6.5,3.1 L7.5,3.1 Q8.8,3.1 8.8,4.2 L8.8,10.6 L5.2,10.6 Z" fill="#fff"/>
 <path d="M6.6,3.1 L6.6,2 L7.6,2 M6.6,2 Q5,1.6 4.4,3.4" stroke="#fff" stroke-width="0.8" fill="none"/></svg>
<svg x="667.3" y="320.2" width="14.0" height="11.8" viewBox="0 0 14 12" preserveAspectRatio="none" overflow="hidden"><rect x="0" y="0" width="14" height="12" fill="#e30d16"/>
 <path d="M5.2,4.2 Q5.2,3.1 6.5,3.1 L7.5,3.1 Q8.8,3.1 8.8,4.2 L8.8,10.6 L5.2,10.6 Z" fill="#fff"/>
 <path d="M6.6,3.1 L6.6,2 L7.6,2 M6.6,2 Q5,1.6 4.4,3.4" stroke="#fff" stroke-width="0.8" fill="none"/></svg>
<svg x="196.2" y="256.4" width="14.0" height="11.6" viewBox="0 0 14 11.4" preserveAspectRatio="none" overflow="hidden"><rect x="0" y="0" width="14" height="11.4" fill="#e30d16"/>
 <rect x="1.6" y="1.4" width="10.8" height="8.6" rx="1.6" fill="#fff"/>
 <ellipse cx="7" cy="5.8" rx="3.8" ry="2.9" fill="#e30d16"/>
 <ellipse cx="7" cy="5.8" rx="1.6" ry="1.15" fill="#fff"/></svg>
<svg x="600.8" y="227.2" width="14.0" height="11.6" viewBox="0 0 14 11.4" preserveAspectRatio="none" overflow="hidden"><rect x="0" y="0" width="14" height="11.4" fill="#e30d16"/>
 <rect x="1.6" y="1.4" width="10.8" height="8.6" rx="1.6" fill="#fff"/>
 <ellipse cx="7" cy="5.8" rx="3.8" ry="2.9" fill="#e30d16"/>
 <ellipse cx="7" cy="5.8" rx="1.6" ry="1.15" fill="#fff"/></svg>
<svg x="641.9" y="226.6" width="15.2" height="11.8" viewBox="0 0 15 12" preserveAspectRatio="none" overflow="hidden"><path d="M7.5,0.6 L14.4,11.4 L0.6,11.4 Z" fill="#f2e600" stroke="#8a7d10" stroke-width="0.9" stroke-linejoin="round"/>
 <path d="M8.2,3.6 L6.2,7.4 L7.8,7.4 L6.6,10.2 L9.2,6.4 L7.6,6.4 L8.8,3.6 Z" fill="#222"/></svg>
<svg x="560.2" y="222.1" width="12.7" height="11.0" viewBox="0 0 13 11" preserveAspectRatio="none" overflow="hidden"><rect x="0" y="0" width="13" height="11" rx="0.8" fill="#03933b"/>
 <g stroke="#fff" stroke-width="1.0" fill="none" stroke-linecap="round">
  <path d="M1.5,1.4 L3.9,3.3 M11.5,1.4 L9.1,3.3 M1.5,9.6 L3.9,7.7 M11.5,9.6 L9.1,7.7"/>
 </g>
 <path d="M2.6,3.3 L4.2,3.6 L3.7,2.1 Z M10.4,3.3 L8.8,3.6 L9.3,2.1 Z M2.6,7.7 L4.2,7.4 L3.7,8.9 Z M10.4,7.7 L8.8,7.4 L9.3,8.9 Z" fill="#fff"/>
 <ellipse cx="6.5" cy="6.3" rx="2.1" ry="1.2" fill="#fff"/>
 <circle cx="6.5" cy="4.2" r="0.9" fill="#fff"/></svg>
<text x="99.8" y="68.8" font-family="Liberation Serif" font-size="26.6" fill="#141414" text-anchor="start" font-weight="normal" textLength="547.5" lengthAdjust="spacingAndGlyphs" transform="rotate(0.23 99.8 68.8)">ПЛАН ЭВАКУАЦИИ ПРИ ПОЖАРЕ</text>
<text x="166.0" y="90.8" font-family="Liberation Serif" font-size="14.4" fill="#222" text-anchor="start" font-weight="normal" textLength="416.5" lengthAdjust="spacingAndGlyphs" transform="rotate(0.2 166.0 90.8)">ЛЮДЕЙ И МАТЕРИАЛЬНЫХ ЦЕННОСТЕЙ</text>
<text x="253.2" y="109.1" font-family="Liberation Serif" font-size="14.4" fill="#222" text-anchor="start" font-weight="normal" textLength="238.5" lengthAdjust="spacingAndGlyphs" transform="rotate(0.2 253.2 109.1)">ООО «РОГА И КОПЫТА»</text>
<text x="311.6" y="144.0" font-family="Liberation Serif" font-size="24.8" fill="#141414" text-anchor="start" font-weight="normal" textLength="125" lengthAdjust="spacingAndGlyphs">2 ЭТАЖ</text>
<text x="604.8" y="119.6" font-family="Liberation Serif" font-size="7" fill="#333" text-anchor="middle" font-weight="normal" textLength="65" lengthAdjust="spacingAndGlyphs">«УТВЕРЖДАЮ»</text>
<text x="522" y="126.6" font-family="Liberation Serif" font-size="7" fill="#333" text-anchor="start" font-weight="normal" textLength="161.5" lengthAdjust="spacingAndGlyphs">Генеральный директор ООО Рога и Копыта</text>
<line x1="532.5" y1="133.8" x2="581.5" y2="133.8" stroke="#555" stroke-width="0.6"/>
<text x="582" y="133.6" font-family="Liberation Serif" font-size="7" fill="#333" text-anchor="start" font-weight="normal" textLength="93.5" lengthAdjust="spacingAndGlyphs">Зиц-председатель Фунт»</text>
<text x="572.2" y="140.6" font-family="Liberation Serif" font-size="7" fill="#333" text-anchor="start" font-weight="normal" textLength="64" lengthAdjust="spacingAndGlyphs">«30»октября 2010</text>
<rect x="56.3" y="342.4" width="207" height="46.8" fill="none" stroke="#f29a7e" stroke-width="1.3"/>
<rect x="56.3" y="393.6" width="207" height="46.4" fill="none" stroke="#f29a7e" stroke-width="1.3"/>
<text x="160.3" y="358.0" font-family="Liberation Serif" font-size="10.8" fill="#e9573a" text-anchor="middle" font-weight="normal" textLength="74" lengthAdjust="spacingAndGlyphs" stroke="#e9573a" stroke-width="0.25">ВНИМАНИЕ!</text>
<text x="160.3" y="368.8" font-family="Liberation Serif" font-size="10.2" fill="#e9573a" text-anchor="middle" font-weight="normal" textLength="148" lengthAdjust="spacingAndGlyphs" stroke="#e9573a" stroke-width="0.2">Сориентируйтесь на плане.</text>
<text x="159.7" y="379.2" font-family="Liberation Serif" font-size="10.2" fill="#e9573a" text-anchor="middle" font-weight="normal" textLength="196" lengthAdjust="spacingAndGlyphs" stroke="#e9573a" stroke-width="0.2">Определите свое место  нахождения</text>
<text x="65.6" y="420.8" font-family="Liberation Serif" font-size="12" fill="#e9573a" text-anchor="start" font-weight="normal" textLength="129.6" lengthAdjust="spacingAndGlyphs" stroke="#e9573a" stroke-width="0.35">О ПОЖАРЕ ЗВОНИТЬ</text>
<text x="205.6" y="432.6" font-family="Liberation Serif" font-size="48" fill="#e01b1b" text-anchor="start" font-weight="normal" textLength="55.8" lengthAdjust="spacingAndGlyphs">01</text>
<rect x="271.8" y="343.5" width="204.8" height="96.9" fill="none" stroke="#555" stroke-width="1.3"/>
<text x="374.5" y="354.0" font-family="Liberation Serif" font-size="12.9" fill="#2a2a2a" text-anchor="middle" font-weight="normal" textLength="151.7" lengthAdjust="spacingAndGlyphs">Действия при пожаре</text>
<rect x="276.7" y="356.4" width="195" height="1.8" fill="#777"/>
<rect x="276.7" y="382.8" width="195" height="1.8" fill="#777"/>
<rect x="276.7" y="411.2" width="195" height="1.8" fill="#777"/>
<text x="287.8" y="376.0" font-family="Liberation Serif" font-size="20.5" fill="#141414" text-anchor="middle" font-weight="normal" stroke="#141414" stroke-width="0.7">1</text>
<text x="287.8" y="404.6" font-family="Liberation Serif" font-size="20.5" fill="#141414" text-anchor="middle" font-weight="normal" stroke="#141414" stroke-width="0.7">2</text>
<text x="287.8" y="433.6" font-family="Liberation Serif" font-size="20.5" fill="#141414" text-anchor="middle" font-weight="normal" stroke="#141414" stroke-width="0.7">3</text>
<text x="325.1" y="365.2" font-family="Liberation Serif" font-size="6.9" fill="#5a5a5a" text-anchor="middle" font-weight="normal" textLength="34" lengthAdjust="spacingAndGlyphs">Сообщить</text>
<text x="325.1" y="372.5" font-family="Liberation Serif" font-size="6.9" fill="#5a5a5a" text-anchor="middle" font-weight="normal" textLength="45" lengthAdjust="spacingAndGlyphs">по телефону:</text>
<text x="325.1" y="379.0" font-family="Liberation Serif" font-size="6.9" fill="#e9573a" text-anchor="middle" font-weight="normal">01</text>
<text x="325.1" y="396.6" font-family="Liberation Serif" font-size="6.9" fill="#5a5a5a" text-anchor="middle" font-weight="normal" textLength="50" lengthAdjust="spacingAndGlyphs">Эвакуировать</text>
<text x="325.1" y="403.0" font-family="Liberation Serif" font-size="6.9" fill="#5a5a5a" text-anchor="middle" font-weight="normal" textLength="21" lengthAdjust="spacingAndGlyphs">людей</text>
<text x="325.1" y="416.5" font-family="Liberation Serif" font-size="6.9" fill="#5a5a5a" text-anchor="middle" font-weight="normal" textLength="60" lengthAdjust="spacingAndGlyphs">По возможности</text>
<text x="325.1" y="423.6" font-family="Liberation Serif" font-size="6.9" fill="#5a5a5a" text-anchor="middle" font-weight="normal" textLength="48" lengthAdjust="spacingAndGlyphs">принять меры</text>
<text x="325.1" y="430.3" font-family="Liberation Serif" font-size="6.9" fill="#5a5a5a" text-anchor="middle" font-weight="normal" textLength="41" lengthAdjust="spacingAndGlyphs">по тушению</text>
<text x="325.1" y="437.5" font-family="Liberation Serif" font-size="6.9" fill="#5a5a5a" text-anchor="middle" font-weight="normal" textLength="28" lengthAdjust="spacingAndGlyphs">пожара</text>
<svg x="365.3" y="358.5" width="27.3" height="22.8" viewBox="0 0 14 12" preserveAspectRatio="none" overflow="hidden"><rect x="0" y="0" width="14" height="12" fill="#e30d16"/>
 <ellipse cx="4.7" cy="2.5" rx="2.5" ry="1.35" transform="rotate(38 4.7 2.5)" fill="#fff"/>
 <ellipse cx="9.7" cy="9.5" rx="2.4" ry="1.35" transform="rotate(38 9.7 9.5)" fill="#fff"/>
 <path d="M3.4,3.0 Q3.6,8.0 9.2,10.0" stroke="#fff" stroke-width="2.0" fill="none" stroke-linecap="round"/>
 <path d="M5.0,1.6 L6.2,3.4 M8.2,8.4 L9.6,10.2" stroke="#e30d16" stroke-width="0.35" opacity="0.6"/></svg>
<rect x="357.4" y="388.4" width="42.6" height="17.9" fill="#03933b"/>
<g transform="translate(360.6,390.9) scale(1.098)"><circle cx="7.3" cy="1.5" r="1.45" fill="#fff"/><path d="M6.3,3.5 L4.2,7.4 M6.0,3.9 L7.9,5.3 L9.5,4.6 M5.7,3.6 L3.7,3.4 L2.2,4.9 M4.2,7.4 L6.5,8.7 L6.1,11.4 M4.2,7.4 L2.6,9.3 L0.5,9.1" fill="none" stroke="#fff" stroke-width="1.6" stroke-linecap="round" stroke-linejoin="round"/></g>
<path d="M375,397.3 H383.5" stroke="#fff" stroke-width="1.6"/><path d="M382.2,394.6 L386.6,397.3 L382.2,400 Z" fill="#fff"/>
<rect x="389.7" y="391.3" width="7" height="12.4" fill="#fff"/>
<svg x="365.3" y="414.8" width="27.3" height="22.9" viewBox="0 0 14 12" preserveAspectRatio="none" overflow="hidden"><rect x="0" y="0" width="14" height="12" fill="#e30d16"/>
 <path d="M5.2,4.2 Q5.2,3.1 6.5,3.1 L7.5,3.1 Q8.8,3.1 8.8,4.2 L8.8,10.6 L5.2,10.6 Z" fill="#fff"/>
 <path d="M6.6,3.1 L6.6,2 L7.6,2 M6.6,2 Q5,1.6 4.4,3.4" stroke="#fff" stroke-width="0.8" fill="none"/></svg>
<text x="406.0" y="363.5" font-family="Liberation Serif" font-size="5.6" fill="#555" text-anchor="start" font-weight="normal" textLength="40" lengthAdjust="spacingAndGlyphs">- адрес объекта</text>
<text x="406.0" y="368.4" font-family="Liberation Serif" font-size="5.6" fill="#555" text-anchor="start" font-weight="normal" textLength="60.4" lengthAdjust="spacingAndGlyphs">- место возникновения</text>
<text x="409.4" y="373.2" font-family="Liberation Serif" font-size="5.6" fill="#555" text-anchor="start" font-weight="normal" textLength="18.7" lengthAdjust="spacingAndGlyphs">пожара</text>
<text x="406.0" y="378.4" font-family="Liberation Serif" font-size="5.6" fill="#555" text-anchor="start" font-weight="normal" textLength="43.4" lengthAdjust="spacingAndGlyphs">- свою фамилию</text>
<text x="406.0" y="387.4" font-family="Liberation Serif" font-size="5.6" fill="#555" text-anchor="start" font-weight="normal" textLength="57" lengthAdjust="spacingAndGlyphs">- ориентироваться по</text>
<text x="409.4" y="392.4" font-family="Liberation Serif" font-size="5.6" fill="#555" text-anchor="start" font-weight="normal" textLength="53.6" lengthAdjust="spacingAndGlyphs">знакам направления</text>
<text x="409.4" y="397.4" font-family="Liberation Serif" font-size="5.6" fill="#555" text-anchor="start" font-weight="normal" textLength="26.4" lengthAdjust="spacingAndGlyphs">движения</text>
<text x="406.0" y="402.6" font-family="Liberation Serif" font-size="5.6" fill="#555" text-anchor="start" font-weight="normal" textLength="39.1" lengthAdjust="spacingAndGlyphs">- взять с собой</text>
<text x="409.4" y="407.6" font-family="Liberation Serif" font-size="5.6" fill="#555" text-anchor="start" font-weight="normal" textLength="37.4" lengthAdjust="spacingAndGlyphs">пострадавших</text>
<text x="406.0" y="416.6" font-family="Liberation Serif" font-size="5.6" fill="#555" text-anchor="start" font-weight="normal" textLength="63.8" lengthAdjust="spacingAndGlyphs">- использовать средства</text>
<text x="409.4" y="421.6" font-family="Liberation Serif" font-size="5.6" fill="#555" text-anchor="start" font-weight="normal" textLength="47.6" lengthAdjust="spacingAndGlyphs">противопожарной</text>
<text x="409.4" y="426.4" font-family="Liberation Serif" font-size="5.6" fill="#555" text-anchor="start" font-weight="normal" textLength="21.3" lengthAdjust="spacingAndGlyphs">защиты</text>
<text x="406.0" y="431.5" font-family="Liberation Serif" font-size="5.6" fill="#555" text-anchor="start" font-weight="normal" textLength="54.4" lengthAdjust="spacingAndGlyphs">- при необходимости</text>
<text x="409.4" y="436.8" font-family="Liberation Serif" font-size="5.6" fill="#555" text-anchor="start" font-weight="normal" textLength="60.4" lengthAdjust="spacingAndGlyphs">обесточить помещение</text>
<rect x="485" y="344.4" width="205.4" height="96.8" fill="none" stroke="#777" stroke-width="1.2"/>
<text x="498.5" y="355.4" font-family="Liberation Serif" font-size="11.6" fill="#2a2a2a" text-anchor="start" font-weight="normal" textLength="179" lengthAdjust="spacingAndGlyphs">УСЛОВНЫЕ ОБОЗНАЧЕНИЯ</text>
<svg x="494.6" y="356.1" width="13.0" height="10.2" viewBox="0 0 14 12" preserveAspectRatio="none" overflow="hidden"><rect x="0" y="0" width="14" height="12" fill="#e30d16"/>
 <path d="M5.2,4.2 Q5.2,3.1 6.5,3.1 L7.5,3.1 Q8.8,3.1 8.8,4.2 L8.8,10.6 L5.2,10.6 Z" fill="#fff"/>
 <path d="M6.6,3.1 L6.6,2 L7.6,2 M6.6,2 Q5,1.6 4.4,3.4" stroke="#fff" stroke-width="0.8" fill="none"/></svg>
<text x="516.5" y="363.90000000000003" font-family="Liberation Serif" font-size="8.2" fill="#606060" text-anchor="start" font-weight="normal" textLength="63.7" lengthAdjust="spacingAndGlyphs">- огнетушитель</text>
<svg x="494.6" y="368.7" width="13.0" height="10.2" viewBox="0 0 14 11.4" preserveAspectRatio="none" overflow="hidden"><rect x="0" y="0" width="14" height="11.4" fill="#e30d16"/>
 <rect x="1.6" y="1.4" width="10.8" height="8.6" rx="1.6" fill="#fff"/>
 <ellipse cx="7" cy="5.8" rx="3.8" ry="2.9" fill="#e30d16"/>
 <ellipse cx="7" cy="5.8" rx="1.6" ry="1.15" fill="#fff"/></svg>
<text x="516.5" y="376.5" font-family="Liberation Serif" font-size="8.2" fill="#606060" text-anchor="start" font-weight="normal" textLength="170.9" lengthAdjust="spacingAndGlyphs">- кнопка ручного пожарного извещателя</text>
<svg x="494.4" y="380.6" width="13.6" height="10.4" viewBox="0 0 15 12" preserveAspectRatio="none" overflow="hidden"><path d="M7.5,0.6 L14.4,11.4 L0.6,11.4 Z" fill="#f2e600" stroke="#8a7d10" stroke-width="0.9" stroke-linejoin="round"/>
 <path d="M8.2,3.6 L6.2,7.4 L7.8,7.4 L6.6,10.2 L9.2,6.4 L7.6,6.4 L8.8,3.6 Z" fill="#222"/></svg>
<text x="516.5" y="388.40000000000003" font-family="Liberation Serif" font-size="8.2" fill="#606060" text-anchor="start" font-weight="normal" textLength="73.5" lengthAdjust="spacingAndGlyphs">- электрощитовая</text>
<svg x="494.6" y="392.6" width="13.0" height="10.2" viewBox="0 0 14 12" preserveAspectRatio="none" overflow="hidden"><rect x="0" y="0" width="14" height="12" fill="#e30d16"/>
 <ellipse cx="4.7" cy="2.5" rx="2.5" ry="1.35" transform="rotate(38 4.7 2.5)" fill="#fff"/>
 <ellipse cx="9.7" cy="9.5" rx="2.4" ry="1.35" transform="rotate(38 9.7 9.5)" fill="#fff"/>
 <path d="M3.4,3.0 Q3.6,8.0 9.2,10.0" stroke="#fff" stroke-width="2.0" fill="none" stroke-linecap="round"/>
 <path d="M5.0,1.6 L6.2,3.4 M8.2,8.4 L9.6,10.2" stroke="#e30d16" stroke-width="0.35" opacity="0.6"/></svg>
<text x="516.5" y="400.40000000000003" font-family="Liberation Serif" font-size="8.2" fill="#606060" text-anchor="start" font-weight="normal" textLength="40.099999999999994" lengthAdjust="spacingAndGlyphs">- телефон</text>
<svg x="488.7" y="404.3" width="25.6" height="10.0" viewBox="0 0 25 9.5" preserveAspectRatio="none" overflow="hidden"><rect x="0" y="0" width="25" height="9.5" rx="0.8" fill="#03933b"/>
 <text x="12.5" y="7.4" text-anchor="middle" font-family="Liberation Sans" font-weight="bold" font-size="7.8" fill="#fff" stroke="#fff" stroke-width="0.15" textLength="22.6" lengthAdjust="spacingAndGlyphs">ВЫХОД</text></svg>
<text x="516.5" y="412.1" font-family="Liberation Serif" font-size="8.2" fill="#606060" text-anchor="start" font-weight="normal" textLength="71.2" lengthAdjust="spacingAndGlyphs">- основной выход</text>
<svg x="488.7" y="416.7" width="25.6" height="10.4" viewBox="0 0 26 11" preserveAspectRatio="none" overflow="hidden"><rect x="0" y="0" width="26" height="11" rx="0.8" fill="#03933b"/>
 <g transform="translate(2.0,1.7) scale(0.600)"><circle cx="7.3" cy="1.5" r="1.6" fill="#fff"/><path d="M6.3,3.5 L4.2,7.4 M6.0,3.9 L7.9,5.3 L9.5,4.6 M5.7,3.6 L3.7,3.4 L2.2,4.9 M4.2,7.4 L6.5,8.7 L6.1,11.4 M4.2,7.4 L2.6,9.3 L0.5,9.1" fill="none" stroke="#fff" stroke-width="2.0" stroke-linecap="round" stroke-linejoin="round"/></g>
 <path d="M10.6,5.7 H16" stroke="#fff" stroke-width="1.2"/>
 <path d="M15.2,4.0 L17.8,5.7 L15.2,7.4 Z" fill="#fff"/>
 <rect x="19.9" y="1.8" width="4.1" height="7.9" fill="#fff"/></svg>
<text x="516.5" y="424.7" font-family="Liberation Serif" font-size="8.2" fill="#606060" text-anchor="start" font-weight="normal" textLength="110.39999999999999" lengthAdjust="spacingAndGlyphs">- основной путь эвакуации</text>
<svg x="494.6" y="428.8" width="13.0" height="10.2" viewBox="0 0 13 11" preserveAspectRatio="none" overflow="hidden"><rect x="0" y="0" width="13" height="11" rx="0.8" fill="#03933b"/>
 <g stroke="#fff" stroke-width="1.0" fill="none" stroke-linecap="round">
  <path d="M1.5,1.4 L3.9,3.3 M11.5,1.4 L9.1,3.3 M1.5,9.6 L3.9,7.7 M11.5,9.6 L9.1,7.7"/>
 </g>
 <path d="M2.6,3.3 L4.2,3.6 L3.7,2.1 Z M10.4,3.3 L8.8,3.6 L9.3,2.1 Z M2.6,7.7 L4.2,7.4 L3.7,8.9 Z M10.4,7.7 L8.8,7.4 L9.3,8.9 Z" fill="#fff"/>
 <ellipse cx="6.5" cy="6.3" rx="2.1" ry="1.2" fill="#fff"/>
 <circle cx="6.5" cy="4.2" r="0.9" fill="#fff"/></svg>
<text x="516.5" y="436.6" font-family="Liberation Serif" font-size="8.2" fill="#606060" text-anchor="start" font-weight="normal" textLength="90.8" lengthAdjust="spacingAndGlyphs">- вы находитесь здесь</text>
</g>
</svg>
</body></html>
